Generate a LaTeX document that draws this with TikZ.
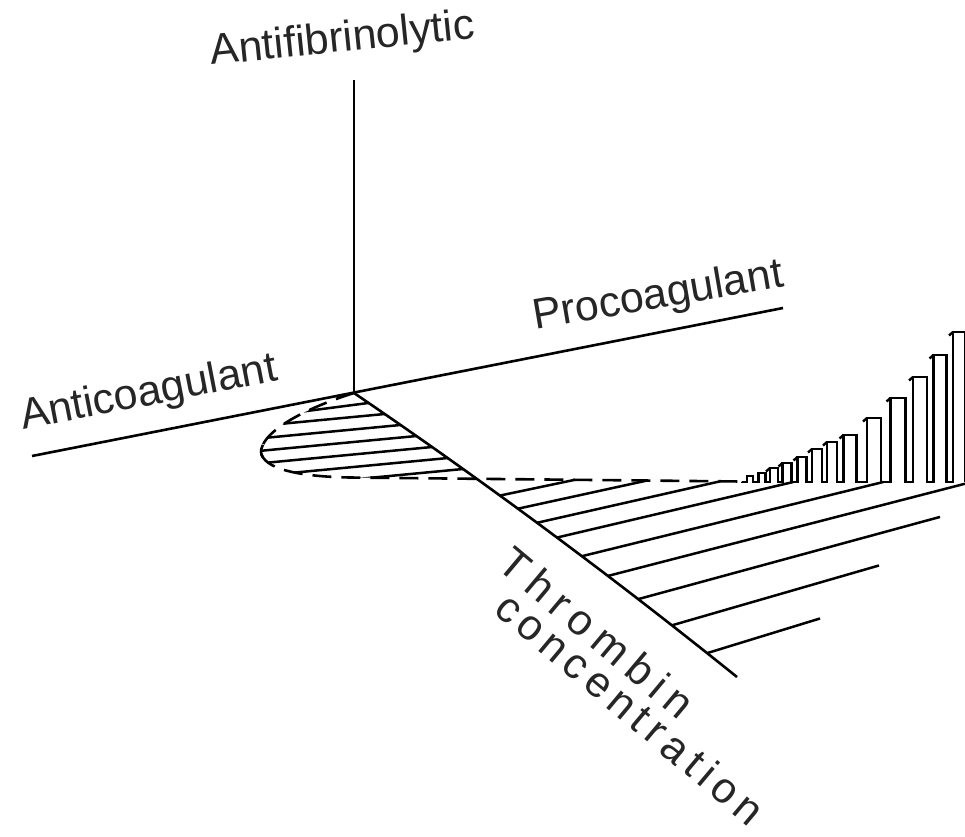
\documentclass[tikz,border=0pt]{standalone}
\usepackage{fontspec}
\setmainfont{Liberation Sans}
\begin{document}
\begin{tikzpicture}[x=1pt,y=-1pt,
  axisln/.style={line width=2.6pt, black},
  dashln/.style={line width=2.6pt, black, dash pattern=on 19pt off 10pt},
  hatch/.style={line width=2.5pt, black},
  combln/.style={line width=2.4pt, black, line join=miter},
  lbl/.style={font=\fontsize{43}{50}\selectfont, text=black!85, inner sep=0pt}]
\useasboundingbox (0,0) rectangle (965,836);
\fill[white] (0,0) rectangle (965,836);
\coordinate (O) at (354,393);
\coordinate (vtop) at (354,80);
\coordinate (acend) at (32,456);
\coordinate (pcend) at (783,308);
\coordinate (tend) at (737,677);
\coordinate (tip) at (261,452);
\coordinate (dL) at (350,477.5);
\coordinate (dR) at (742,481.5);
\coordinate (cL) at (742,482);
\coordinate (cR) at (965,482);
\coordinate (VP) at (2800,10);
\foreach \xx in {965,940,879,820} {
  \coordinate (v\xx a) at (\xx,0);
  \coordinate (v\xx b) at (\xx,800);
}

% labels
\node[lbl, rotate=5.8, anchor=base] (antifib) at (343.5,51.5) {Antifibrinolytic};
\node[lbl, rotate=11, anchor=base] (anticoag) at (151,405) {Anticoagulant};
\node[lbl, rotate=9.7, anchor=base] (procoag) at (660,308) {Procoagulant};
\node[lbl, rotate=-40] (thromb) at (594,630) {\addfontfeatures{LetterSpace=19}Thrombin\kern-8.2pt};
\node[lbl, rotate=-40] (conc) at (628,706) {\addfontfeatures{LetterSpace=15}concentration\kern-6.5pt};

% axes
\draw[axisln] (O) -- (vtop);
\draw[axisln] (acend) -- (pcend);
\draw[axisln] (O) .. controls (481.7,479.7) and (609.3,574.3) .. (tend);

% hatching inside the loop (left of thrombin axis)
\begin{scope}
\clip (O) .. controls (318,404) and (262,428) .. (tip) .. controls (263,468) and (295,476.5) .. (dL) -- (468.9,478.6) -- (468.9,473.2) .. controls (430.61,445.73) and (392.31,419.01) .. (O) -- cycle;
\foreach \xa/\ya/\s in {368.2/403/0.13, 384.6/414/0.095, 400.4/425/0.095, 416.5/436/0.095, 432/447/0.095, 448/458/0.095, 463/469/0.095}
  \draw[hatch] ({\xa+40},{\ya-40*\s}) -- ({\xa-220},{\ya+220*\s});
\end{scope}

% hatching right of thrombin axis
\path (O) .. controls (481.7,479.7) and (609.3,574.3) .. (tend)
  coordinate[pos=0.381] (r1) coordinate[pos=0.428] (r2) coordinate[pos=0.478] (r3)
  coordinate[pos=0.530] (r4) coordinate[pos=0.595] (r5) coordinate[pos=0.663] (r6)
  coordinate[pos=0.742] (r7) coordinate[pos=0.830] (r8) coordinate[pos=0.922] (r9);
\draw[hatch] (r1) -- (intersection of r1--VP and dL--dR);
\draw[hatch] (r2) -- (intersection of r2--VP and dL--dR);
\draw[hatch] (r3) -- (intersection of r3--VP and dL--dR);
\draw[hatch] (r4) -- (intersection of r4--VP and cL--cR);
\draw[hatch] (r5) -- (intersection of r5--VP and cL--cR);
\draw[hatch] (r6) -- (intersection of r6--VP and v965a--v965b);
\draw[hatch] (r7) -- (intersection of r7--VP and v940a--v940b);
\draw[hatch] (r8) -- (intersection of r8--VP and v879a--v879b);
\draw[hatch] (r9) -- (intersection of r9--VP and v820a--v820b);

% dashed contour
\draw[dashln] (O) .. controls (318,404) and (262,428) .. (tip) .. controls (263,468) and (295,476.5) .. (dL) -- (dR);
\draw[axisln] (262.9,444.8) .. controls (261.5,448) and (260.8,450) .. (tip) .. controls (261.2,454.5) and (261.8,456) .. (262.9,457.3);

% comb of rising bars
\draw[combln] (dR) -- (cL)
  \foreach \c/\w/\h in {750/6/6, 762/7/9, 774/8/14, 787/9/19, 802/9/25, 817/10/33, 832/10/40, 850/13/47, 874/14/64, 898/15/84, 920/14/105, 940/13/127, 959/12/150}
  { -- ({\c-\w/2},482) -- ({\c-\w/2},{482-\h}) -- ({\c+\w/2},{482-\h}) -- ({\c+\w/2},482) };
\foreach \c/\w/\h in {774/8/14, 787/9/19, 802/9/25, 817/10/33, 832/10/40, 850/13/47, 874/14/64, 898/15/84, 920/14/105, 940/13/127, 959/12/150}
  \draw[combln] ({\c-\w/2},{482-\h}) -- ++(-4,3.5);
\end{tikzpicture}
\end{document}
